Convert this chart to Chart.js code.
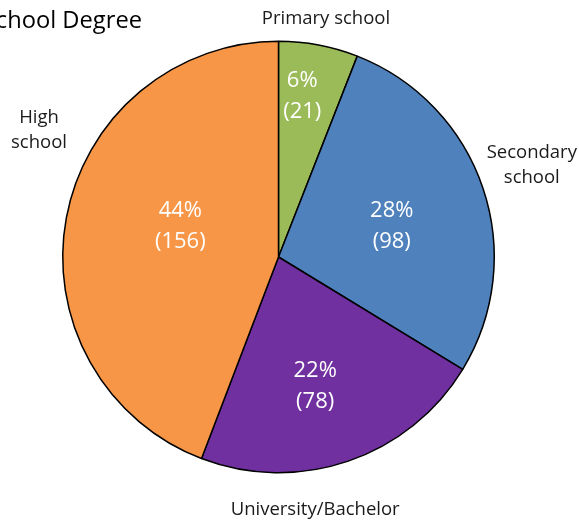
<!DOCTYPE html>
<html>
<head>
<meta charset="utf-8">
<script src="https://cdn.jsdelivr.net/npm/chart.js@4/dist/chart.umd.min.js"></script>
<style>
  html, body { margin: 0; padding: 0; background: #fff; }
  #wrap { width: 579px; height: 521px; position: relative; }
</style>
</head>
<body>
<div id="wrap"><canvas id="myChart" width="579" height="521"></canvas></div>
<script>
const categories = ['Primary school', 'Secondary school', 'University/Bachelor', 'High school'];
const counts = [21, 98, 78, 156];
const colors = ['#9BBB59', '#4F81BD', '#7030A0', '#F79646'];
const TITLE = 'School Degree';

// label text lines for the outer labels
const outerLines = [['Primary school'], ['Secondary', 'school'], ['University/Bachelor'], ['High', 'school']];

// where each label sits, relative to the pie centre, in units of the radius
const innerSpots = [[0.11, -0.745], [0.525, -0.14], [0.17, 0.60], [-0.455, -0.14]];
const outerSpots = [[0.22, -1.105], [1.174, -0.424], [0.17, 1.173], [-1.11, -0.588]];

const container = document.getElementById('myChart');
const FONT = '"Open Sans", "DejaVu Sans", sans-serif';

const labelPlugin = {
    id: 'sliceLabels',
    afterDatasetsDraw(chart) {
        const ctx = chart.ctx;
        const arcs = chart.getDatasetMeta(0).data;
        const total = counts.reduce((a, b) => a + b, 0);
        ctx.save();
        ctx.textAlign = 'center';
        ctx.textBaseline = 'middle';
        arcs.forEach((arc, i) => {
            const cx = arc.x, cy = arc.y, r = arc.outerRadius;
            // percentages and counts inside the slices
            const pct = Math.round(counts[i] / total * 100) + '%';
            const ix = cx + innerSpots[i][0] * r;
            const iy = cy + innerSpots[i][1] * r;
            ctx.fillStyle = '#ffffff';
            ctx.font = '22px ' + FONT;
            ctx.fillText(pct, ix, iy - 16);
            ctx.fillText('(' + counts[i] + ')', ix, iy + 15);
            // category names around the pie
            const ox = cx + outerSpots[i][0] * r;
            const oy = cy + outerSpots[i][1] * r;
            ctx.fillStyle = '#1a1a1a';
            ctx.font = '18.5px ' + FONT;
            const lines = outerLines[i];
            lines.forEach((t, k) => {
                ctx.fillText(t, ox, oy + (k - (lines.length - 1) / 2) * 25);
            });
        });
        // title, pushed against the left edge so the first letter runs off
        ctx.textAlign = 'right';
        ctx.textBaseline = 'alphabetic';
        ctx.fillStyle = '#000000';
        ctx.font = '100px ' + FONT;
        const tail = ctx.measureText(TITLE.slice(1)).width;
        const size = 100 * 146 / tail;
        ctx.font = size.toFixed(1) + 'px ' + FONT;
        ctx.fillText(TITLE, 142, 28);
        ctx.restore();
    }
};

const chart = new Chart(container, {
    type: 'pie',
    data: {
        labels: categories,
        datasets: [{
            data: counts,
            backgroundColor: colors,
            borderColor: '#000000',
            borderWidth: 1.5
        }]
    },
    options: {
        responsive: false,
        animation: false,
        layout: {
            padding: { left: 62, right: 84, top: 40, bottom: 47 }
        },
        plugins: {
            legend: { display: false },
            title: { display: false },
            tooltip: { enabled: false }
        }
    },
    plugins: [labelPlugin]
});
</script>
</body>
</html>
